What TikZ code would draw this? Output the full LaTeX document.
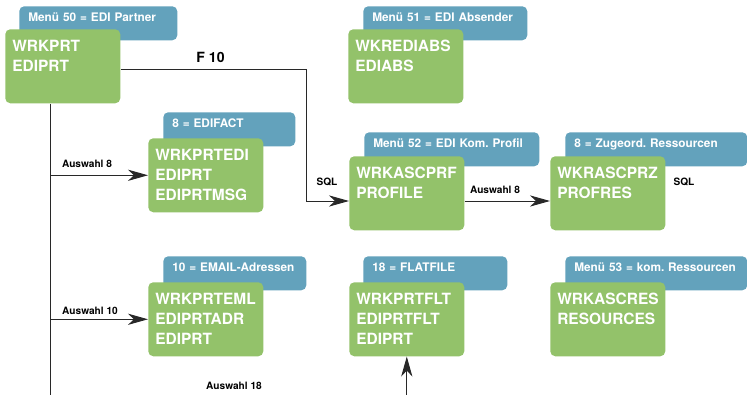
\documentclass[tikz,border=0pt]{standalone}
\usepackage{fontspec}
\setmainfont{TeX Gyre Heros}
\frenchspacing
\usetikzlibrary{arrows.meta}
\pgfdeclarelayer{bg}
\pgfsetlayers{bg,main}
\definecolor{boxgreen}{RGB}{147,194,106}
\definecolor{tabblue}{RGB}{99,162,188}
\definecolor{linegray}{RGB}{40,40,40}
\tikzset{
    box/.style={rectangle, rounded corners=0.125cm, fill=boxgreen, text=white, anchor=north west,
        font=\fontsize{11pt}{14.2pt}\selectfont\bfseries, align=left, text width=2.525cm,
        inner xsep=0.175cm, inner ysep=0.275cm, text height=0.275cm, text depth=1.025cm}
}
\tikzset{
    tab/.style={rectangle, rounded corners=0.125cm, fill=tabblue, text=white, anchor=north west,
        font=\fontsize{8.4pt}{10pt}\selectfont\bfseries, align=left, text width=#1,
        inner xsep=0.225cm, inner ysep=0.175cm, text height=0.2cm, text depth=0.3cm}
}
\tikzset{lbl/.style={anchor=base, inner sep=0mm, font=\fontsize{7.2pt}{8pt}\selectfont\bfseries}}
\tikzset{wire/.style={draw=linegray, line width=0.7pt}}
\tikzset{link/.style={wire, -{Stealth[length=0.5cm, width=0.28cm, inset=0.15cm]}}}

\begin{document}
\begin{tikzpicture}
        \useasboundingbox (0cm, 0cm) rectangle (18.675000cm, 9.875000cm);
        \begin{pgfonlayer}{bg}
                \node (prt-tab) [tab=3.500000cm] at (0.475000cm, 9.725000cm) {Menü 50 = EDI Partner};
                \node (abs-tab) [tab=3.650000cm] at (9.075000cm, 9.725000cm) {Menü 51 = EDI Absender};
                \node (edi-tab) [tab=2.850000cm] at (4.075000cm, 7.075000cm) {8 = EDIFACT};
                \node (prf-tab) [tab=3.925000cm] at (9.100000cm, 6.575000cm) {Menü 52 = EDI Kom. Profil};
                \node (prz-tab) [tab=4.100000cm] at (14.125000cm, 6.575000cm) {8 = Zugeord. Ressourcen};
                \node (eml-tab) [tab=3.125000cm] at (4.075000cm, 3.475000cm) {10 = EMAIL-Adressen};
                \node (flt-tab) [tab=3.150000cm] at (9.075000cm, 3.475000cm) {18 = FLATFILE};
                \node (res-tab) [tab=4.100000cm] at (14.125000cm, 3.475000cm) {Menü 53 = kom. Ressourcen};
        \end{pgfonlayer}
        \node (prt) [box] at (0.125000cm, 9.150000cm) {WRKPRT\\EDIPRT};
        \node (abs) [box] at (8.700000cm, 9.150000cm) {WKREDIABS\\EDIABS};
        \node (edi) [box] at (3.700000cm, 6.425000cm) {WRKPRTEDI\\EDIPRT\\EDIPRTMSG};
        \node (prf) [box] at (8.725000cm, 5.975000cm) {WRKASCPRF\\PROFILE};
        \node (prz) [box] at (13.750000cm, 5.975000cm) {WKRASCPRZ\\PROFRES};
        \node (eml) [box] at (3.700000cm, 2.825000cm) {WRKPRTEML\\EDIPRTADR\\EDIPRT};
        \node (flt) [box] at (8.725000cm, 2.825000cm) {WRKPRTFLT\\EDIPRTFLT\\EDIPRT};
        \node (res) [box] at (13.750000cm, 2.825000cm) {WRKASCRES\\RESOURCES};
        \coordinate (trunk) at (1.250000cm, 0cm);
        \coordinate (sql) at (7.650000cm, 4.850000cm);
        \draw [wire] (prt.south -| trunk) -- (trunk);
        \draw [link] ([yshift=-0.075cm]prt.east) -| (sql) -- (prf.west |- sql);
        \draw (trunk |- edi.west) edge [link] (edi.west);
        \draw (trunk |- eml.west) edge [link] (eml.west);
        \draw (prf.east |- sql) edge [link] (prz.west |- sql);
        \draw (flt.south |- trunk) edge [link] (flt.south);
        \node (f10) [lbl, font=\fontsize{10pt}{12pt}\selectfont\bfseries] at (5.262500cm, 8.300000cm) {F 10};
        \node (a8) [lbl] at (2.175000cm, 5.675000cm) {Auswahl 8};
        \node (a10) [lbl] at (2.250000cm, 2.000000cm) {Auswahl 10};
        \node (a18) [lbl] at (5.850000cm, 0.125000cm) {Auswahl 18};
        \node (sql1) [lbl] at (8.175000cm, 5.225000cm) {SQL};
        \node (a8b) [lbl] at (12.375000cm, 5.025000cm) {Auswahl 8};
        \node (sql2) [lbl] at (17.100000cm, 5.225000cm) {SQL};
\end{tikzpicture}
\end{document}
